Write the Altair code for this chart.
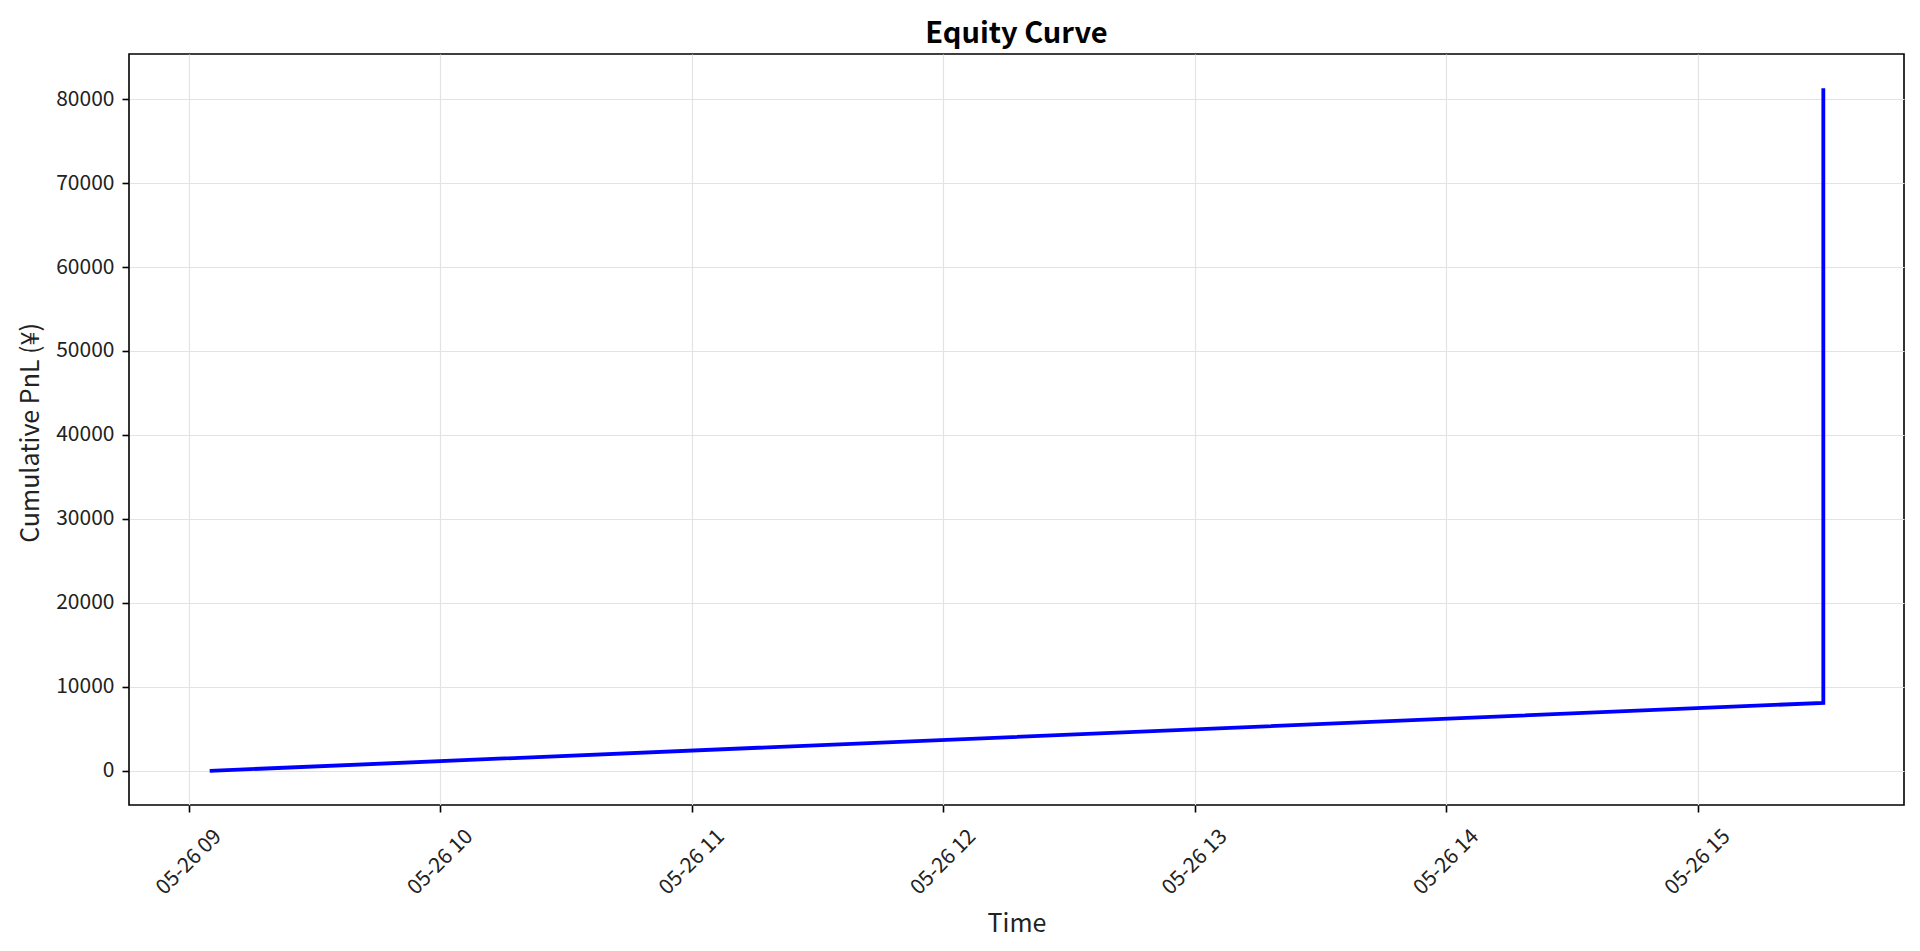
import altair as alt
import pandas as pd

# Data
times = ["2025-05-26T09:05:00", "2025-05-26T15:30:00", "2025-05-26T15:30:00"]
pnl = [0, 8100, 81300]
order_idx = [0, 1, 2]

y_ticks = [0, 10000, 20000, 30000, 40000, 50000, 60000, 70000, 80000]
x_tick_hours = [9, 10, 11, 12, 13, 14, 15]

df = pd.DataFrame({"time": times, "pnl": pnl, "idx": order_idx})

FONT = "Noto Sans CJK JP"

x_domain = [
    alt.DateTime(year=2025, month=5, date=26, hours=8, minutes=45, seconds=45),
    alt.DateTime(year=2025, month=5, date=26, hours=15, minutes=49, seconds=15),
]
x_values = [alt.DateTime(year=2025, month=5, date=26, hours=h) for h in x_tick_hours]

PLOT_W = 1775
PLOT_H = 751

chart = (
    alt.Chart(df)
    .mark_line(color="#0000ff", strokeWidth=3.8, strokeCap="butt", strokeJoin="miter")
    .encode(
        x=alt.X(
            "time:T",
            scale=alt.Scale(domain=x_domain, nice=False),
            axis=alt.Axis(
                title="Time",
                values=x_values,
                format="%m-%d %H",
                labelAngle=-45,
                labelAlign="center",
                labelBaseline="middle",
                labelPadding=50,
                tickSize=7,
                titleX=PLOT_W / 2,
                titleY=126,
                titleBaseline="alphabetic",
                titleAlign="center",
            ),
        ),
        y=alt.Y(
            "pnl:Q",
            scale=alt.Scale(domain=[-4065, 85365], nice=False, zero=False),
            axis=alt.Axis(
                title="Cumulative PnL (¥)",
                values=y_ticks,
                format="d",
                labelPadding=8,
                tickSize=7,
                titleX=-99,
                titleY=PLOT_H / 2 + 3,
                titleAngle=270,
                titleAlign="center",
                titleBaseline="middle",
            ),
        ),
        order="idx:Q",
    )
    .properties(
        width=PLOT_W,
        height=PLOT_H,
        title=alt.TitleParams(
            "Equity Curve",
            anchor="middle",
            fontSize=29,
            fontWeight="bold",
            font=FONT,
            color="#000000",
            baseline="alphabetic",
            offset=15,
            dy=33,
        ),
        autosize=alt.AutoSizeParams(type="none"),
        padding={"left": 129, "top": 54, "right": 16, "bottom": 146},
        background="white",
    )
    .configure_view(stroke="#000000", strokeWidth=1.6)
    .configure_axis(
        domain=False,
        grid=True,
        gridColor="#e3e3e3",
        gridWidth=1.2,
        tickColor="#000000",
        tickWidth=1.6,
        labelFont=FONT,
        labelFontSize=21,
        labelColor="#222222",
        titleFont=FONT,
        titleFontSize=25,
        titleFontWeight="normal",
        titleColor="#222222",
    )
)

chart.save("out.html", embed_options={"renderer": "svg", "actions": False})
